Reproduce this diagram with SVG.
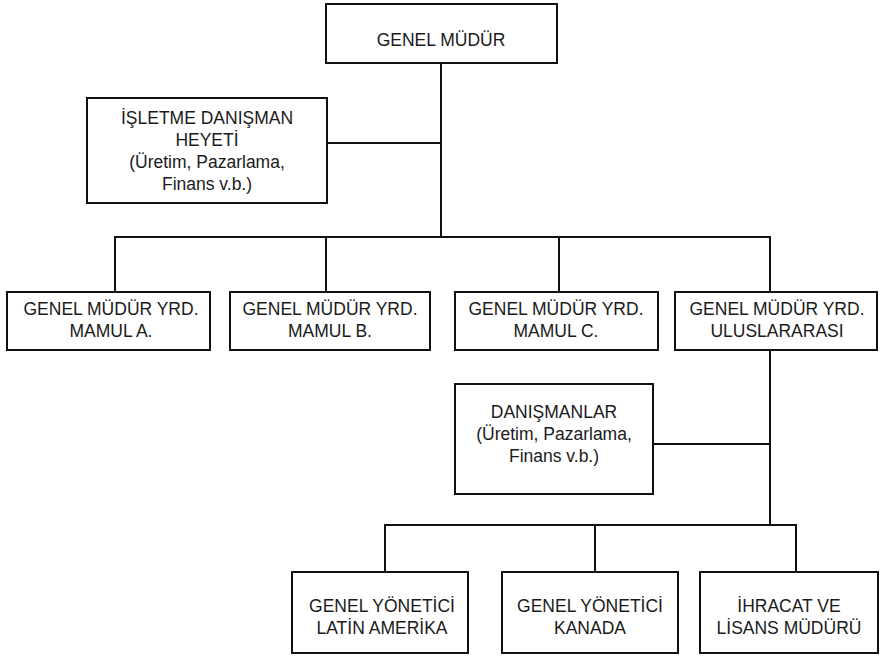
<svg xmlns="http://www.w3.org/2000/svg" width="881" height="656" viewBox="0 0 881 656">
  <style>
    .box { fill: #fff; stroke: #111; stroke-width: 2; }
    .wire { fill: none; stroke: #111; stroke-width: 2; stroke-linecap: square; }
    text { font-family: "Liberation Sans", Arial, sans-serif; font-size: 17.5px; fill: #1a1a1a; text-anchor: middle; }
  </style>
  <rect width="881" height="656" fill="#fff"/>

  <g id="connectors">
    <!-- main trunk and staff link -->
    <path class="wire" d="M441 63 V237"/>
    <path class="wire" d="M327 143 H441"/>
    <!-- deputy bus -->
    <path class="wire" d="M115 237 H770"/>
    <path class="wire" d="M115 237 V292 M326 237 V292 M559 237 V292 M770 237 V292"/>
    <!-- international branch -->
    <path class="wire" d="M770 350 V525"/>
    <path class="wire" d="M653 444 H770"/>
    <path class="wire" d="M385 525 H796"/>
    <path class="wire" d="M385 525 V572 M595 525 V572 M796 525 V572"/>
  </g>

  <g id="genel-mudur">
    <rect class="box" x="326" y="4" width="231" height="59"/>
    <text x="441" y="46">GENEL MÜDÜR</text>
  </g>

  <g id="isletme-danisman">
    <rect class="box" x="87" y="98" width="240" height="105"/>
    <text x="207" y="124">İŞLETME DANIŞMAN</text>
    <text x="207" y="146">HEYETİ</text>
    <text x="207" y="168">(Üretim, Pazarlama,</text>
    <text x="207" y="190">Finans v.b.)</text>
  </g>

  <g id="yrd-mamul-a">
    <rect class="box" x="7" y="292" width="203" height="58"/>
    <text x="111" y="315">GENEL MÜDÜR YRD.</text>
    <text x="111" y="337">MAMUL A.</text>
  </g>

  <g id="yrd-mamul-b">
    <rect class="box" x="230" y="292" width="200" height="58"/>
    <text x="330" y="315">GENEL MÜDÜR YRD.</text>
    <text x="330" y="337">MAMUL B.</text>
  </g>

  <g id="yrd-mamul-c">
    <rect class="box" x="455" y="292" width="203" height="58"/>
    <text x="556" y="315">GENEL MÜDÜR YRD.</text>
    <text x="556" y="337">MAMUL C.</text>
  </g>

  <g id="yrd-uluslararasi">
    <rect class="box" x="675" y="292" width="202" height="58"/>
    <text x="777" y="315">GENEL MÜDÜR YRD.</text>
    <text x="777" y="337">ULUSLARARASI</text>
  </g>

  <g id="danismanlar">
    <rect class="box" x="455" y="384" width="198" height="110"/>
    <text x="554" y="418">DANIŞMANLAR</text>
    <text x="554" y="440">(Üretim, Pazarlama,</text>
    <text x="554" y="462">Finans v.b.)</text>
  </g>

  <g id="latin-amerika">
    <rect class="box" x="292" y="572" width="176" height="81"/>
    <text x="382" y="612">GENEL YÖNETİCİ</text>
    <text x="382" y="634">LATİN AMERİKA</text>
  </g>

  <g id="kanada">
    <rect class="box" x="502" y="572" width="176" height="81"/>
    <text x="590" y="612">GENEL YÖNETİCİ</text>
    <text x="590" y="634">KANADA</text>
  </g>

  <g id="ihracat-lisans">
    <rect class="box" x="700" y="572" width="178" height="81"/>
    <text x="789" y="612">İHRACAT VE</text>
    <text x="789" y="634">LİSANS MÜDÜRÜ</text>
  </g>
</svg>
